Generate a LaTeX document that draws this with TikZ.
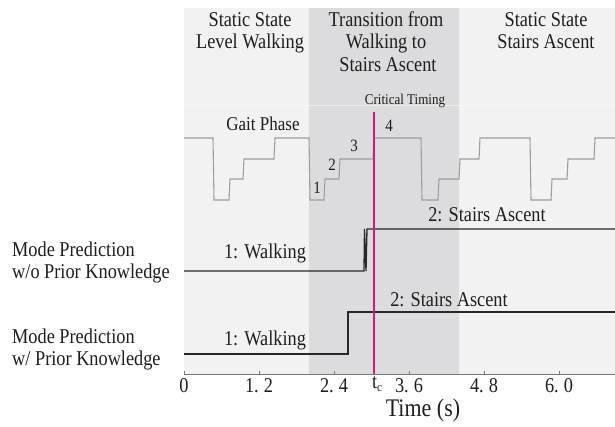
\documentclass[tikz,border=0pt]{standalone}
\usepackage{graphicx}
\usepackage{fontspec}
\setmainfont{Liberation Serif}
\newcommand{\vst}[1]{\scalebox{1}[1.15]{#1}}
\definecolor{bglight}{RGB}{242,242,242}
\definecolor{bgdark}{RGB}{220,220,222}
\definecolor{gaitc}{RGB}{158,158,158}
\definecolor{modec}{RGB}{40,40,40}
\definecolor{critc}{RGB}{214,26,120}
\definecolor{txt}{RGB}{30,30,30}
\definecolor{axisc}{RGB}{120,120,120}
\begin{document}
\begin{tikzpicture}[x=1pt,y=-1pt,
  lbl/.style={inner sep=0pt, text height=0.74em, text depth=0pt, text=txt},
  f18/.style={lbl, font=\fontsize{18.3}{21}\selectfont},
  f17/.style={lbl, font=\fontsize{17}{20}\selectfont},
  f15/.style={lbl, font=\fontsize{15}{18}\selectfont},
  f13/.style={lbl, font=\fontsize{13}{16}\selectfont},
  f22/.style={lbl, font=\fontsize{22}{26}\selectfont},
  leftlbl/.style={f18, anchor=west},
  gait/.style={draw=gaitc, line width=1.1pt, line join=miter},
  mode/.style={draw=modec, line width=1.3pt, line join=miter},
  crit/.style={draw=critc, line width=2.6pt},
  axisline/.style={draw=axisc, line width=0.6pt}]
\useasboundingbox (0,0) rectangle (615,427);
% backgrounds
\fill[bglight] (184,8) rectangle (615,374);
\fill[bgdark] (309,8) rectangle (459,374);
\draw[white, line width=0.5pt, opacity=0.45] (184,105) -- (615,105);

% headers
\node[f18] (h1a) at (250,23) {\vst{Static State}};
\node[f18] (h1b) at (250,45) {\vst{Level Walking}};
\node[f18] (h2a) at (386,23) {\vst{Transition from}};
\node[f18] (h2b) at (386,45) {\vst{Walking to}};
\node[f18] (h2c) at (388,68) {\vst{Stairs Ascent}};
\node[f18] (h3a) at (546,23) {\vst{Static State}};
\node[f18] (h3b) at (546,45) {\vst{Stairs Ascent}};
\node[f13] (crt) at (405,101) {\vst{Critical Timing}};

% gait phase
\draw[gait] (184,138) -- (213,138) -- (214,200) -- (229,200) -- (230,179) -- (243,179)
  -- (244,159) -- (274,159) -- (275,138) -- (309,138) -- (310,200) -- (324,200)
  -- (325,179) -- (339,179) -- (340,159) -- (373,159) -- (374,138) -- (421,138)
  -- (422,200) -- (438,200) -- (439,179) -- (459,179) -- (460,159) -- (479,159)
  -- (480,138) -- (530,138) -- (531,200) -- (551,200) -- (552,179) -- (567,179)
  -- (568,159) -- (594,159) -- (595,138) -- (615,138);
\node[f17] (gp) at (263,127) {\vst{Gait Phase}};
\node[f15] (g1) at (317,190) {\vst{1}};
\node[f15] (g2) at (332,167) {\vst{2}};
\node[f15] (g3) at (354,148) {\vst{3}};
\node[f15] (g4) at (389,128) {\vst{4}};

% mode predictions
\draw[mode] (184,271) -- (364,271) -- (364.5,229) -- (366,271) -- (367,229) -- (615,229);
\draw[mode] (184,354) -- (348,354) -- (348,312) -- (615,312);
\node[f18] (w1) at (265,255) {\vst{1: Walking}};
\node[f18] (s1) at (487,218) {\vst{2: Stairs Ascent}};
\node[f18] (w2) at (265,342) {\vst{1: Walking}};
\node[f18] (s2) at (449,303) {\vst{2: Stairs Ascent}};

\node[leftlbl] (m1a) at (12,253) {\vst{Mode Prediction}};
\node[leftlbl] (m1b) at (12,275) {\vst{w/o Prior Knowledge}};
\node[leftlbl] (m2a) at (12,340) {\vst{Mode Prediction}};
\node[leftlbl] (m2b) at (12,362) {\vst{w/ Prior Knowledge}};

% axis
\draw[axisline] (184,374) -- (615,374);
\foreach \xx in {184,259,334,409,484,559} {
  \draw[axisline] (\xx,374) -- (\xx,371);
}
\node[f18] (t0) at (184,389) {\vst{0}};
\node[f18] (t1) at (259,389) {\vst{1.\kern5pt2}};
\node[f18] (t2) at (334,389) {\vst{2.\kern5pt4}};
\node[f18] (t3) at (409,389) {\vst{3.\kern5pt6}};
\node[f18] (t4) at (484,389) {\vst{4.\kern5pt8}};
\node[f18] (t5) at (559,389) {\vst{6.\kern5pt0}};
\node[f18] (tc) at (377,385) {\vst{t\raisebox{-2.5pt}{\fontsize{11}{11}\selectfont c}}};
\node[f22] (tl) at (423,413) {\vst{Time (s)}};

% critical timing line
\coordinate (ctop) at (374,112);
\coordinate (cbot) at (374,374);
\draw[crit] (ctop) -- (cbot);
\end{tikzpicture}
\end{document}
